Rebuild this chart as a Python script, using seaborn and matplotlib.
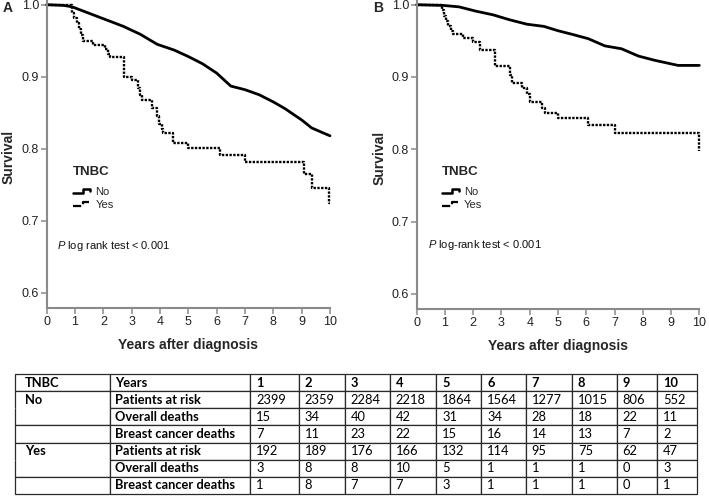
import numpy as np
import pandas as pd
import matplotlib
matplotlib.use("Agg")
import matplotlib.pyplot as plt
import seaborn as sns
from matplotlib.lines import Line2D
from matplotlib.legend_handler import HandlerBase

# ---------------- data ----------------
# Panel A (overall survival)
a_no_t = [0, 0.6, 0.9, 1.5, 2.1, 2.7, 3.3, 3.9, 4.5, 5.0, 5.5, 6.0, 6.5, 7.0, 7.5, 8.0, 8.4, 9.0, 9.35, 9.7, 10.0]
a_no_s = [1.0, 0.999, 0.997, 0.988, 0.979, 0.970, 0.959, 0.945, 0.937, 0.928, 0.918, 0.905, 0.887, 0.882, 0.875, 0.865, 0.856, 0.840, 0.829, 0.823, 0.818]
a_yes_t = [0, 0.88, 0.97, 1.07, 1.13, 1.20, 1.27, 1.65, 2.06, 2.15, 2.25, 2.72, 3.0, 3.23, 3.30, 3.35, 3.71, 3.88, 3.95, 4.06, 4.12, 4.47, 5.0, 6.12, 7.0, 9.08, 9.35, 9.97, 10.0]
a_yes_s = [1.0, 0.988, 0.982, 0.975, 0.966, 0.958, 0.949, 0.944, 0.938, 0.932, 0.928, 0.900, 0.896, 0.884, 0.874, 0.868, 0.856, 0.845, 0.835, 0.828, 0.822, 0.808, 0.801, 0.792, 0.781, 0.765, 0.746, 0.725, 0.725]

# Panel B (breast cancer specific survival)
b_no_t = [0, 0.94, 1.5, 2.1, 2.7, 3.3, 3.9, 4.5, 5.0, 5.5, 6.07, 6.66, 7.25, 7.84, 8.43, 9.25, 10.0]
b_no_s = [1.0, 0.999, 0.997, 0.991, 0.986, 0.979, 0.973, 0.970, 0.964, 0.959, 0.953, 0.943, 0.939, 0.929, 0.923, 0.916, 0.916]
b_yes_t = [0, 0.88, 0.97, 1.05, 1.12, 1.20, 1.30, 1.65, 2.0, 2.24, 2.76, 3.30, 3.36, 3.71, 3.90, 4.0, 4.42, 4.54, 5.0, 6.07, 7.01, 9.99, 10.0]
b_yes_s = [1.0, 0.993, 0.985, 0.978, 0.970, 0.964, 0.959, 0.954, 0.949, 0.938, 0.915, 0.903, 0.892, 0.885, 0.876, 0.866, 0.857, 0.850, 0.843, 0.834, 0.822, 0.798, 0.798]

x_ticks = [0, 1, 2, 3, 4, 5, 6, 7, 8, 9, 10]
y_ticks = [0.6, 0.7, 0.8, 0.9, 1.0]
legend_labels = ["No", "Yes"]
legend_title = "TNBC"
p_texts = ["$\\it{P}$ log rank test < 0.001", "$\\it{P}$ log-rank test < 0.001"]

# table
years = ["1", "2", "3", "4", "5", "6", "7", "8", "9", "10"]
row_groups = ["No", "", "", "Yes", "", ""]
row_labels = ["Patients at risk", "Overall deaths", "Breast cancer deaths",
              "Patients at risk", "Overall deaths", "Breast cancer deaths"]
no_risk = [2399, 2359, 2284, 2218, 1864, 1564, 1277, 1015, 806, 552]
no_overall = [15, 34, 40, 42, 31, 34, 28, 18, 22, 11]
no_bc = [7, 11, 23, 22, 15, 16, 14, 13, 7, 2]
yes_risk = [192, 189, 176, 166, 132, 114, 95, 75, 62, 47]
yes_overall = [3, 8, 8, 10, 5, 1, 1, 1, 0, 3]
yes_bc = [1, 8, 7, 7, 3, 1, 1, 1, 0, 1]

# ---------------- style ----------------
sns.set_theme(style="ticks")
plt.rcParams["font.family"] = ["Liberation Sans", "DejaVu Sans"]
plt.rcParams["mathtext.fontset"] = "custom"
plt.rcParams["mathtext.rm"] = "Liberation Sans"
plt.rcParams["mathtext.it"] = "Liberation Sans:italic"

W, H = 709, 503
fig = plt.figure(figsize=(W / 100, H / 100), dpi=100)
fig.patch.set_facecolor("white")

SPINE = "#8a8a8a"
DOT = (0, (1.0, 0.6))


class StepHandler(HandlerBase):
    def create_artists(self, legend, orig_handle, xdescent, ydescent,
                       width, height, fontsize, trans):
        x0 = -xdescent
        y0 = -ydescent
        xs = [x0, x0 + 0.6 * width, x0 + 0.6 * width, x0 + width, x0 + width]
        ys = [y0 + 0.2 * height, y0 + 0.2 * height, y0 + 0.75 * height,
              y0 + 0.75 * height, y0 + 0.45 * height]
        ln = Line2D(xs, ys, color=orig_handle.get_color(),
                    lw=orig_handle.get_linewidth(),
                    linestyle=orig_handle.get_linestyle())
        ln.set_transform(trans)
        return [ln]


def panel(rect, no_t, no_s, yes_t, yes_s, ptxt, ppos, titlepos, legpos, letter, letpos):
    ax = fig.add_axes(rect)
    sns.lineplot(x=no_t, y=no_s, ax=ax, color="black", lw=2.0,
                 estimator=None, sort=False, clip_on=False)
    sns.lineplot(x=yes_t, y=yes_s, ax=ax, color="black", lw=1.7,
                 drawstyle="steps-post", linestyle=DOT,
                 estimator=None, sort=False, clip_on=False)
    ax.set_xlim(0, 10)
    ax.set_ylim(0.579, 1.0065)
    ax.set_xticks(x_ticks)
    ax.set_xticklabels([str(v) for v in x_ticks])
    ax.set_yticks(y_ticks)
    ax.set_yticklabels([f"{v:.1f}" for v in y_ticks])
    for s in ["top", "right"]:
        ax.spines[s].set_visible(False)
    for s in ["left", "bottom"]:
        ax.spines[s].set_color(SPINE)
        ax.spines[s].set_linewidth(1.5)
    ax.tick_params(length=4, width=1.1, color=SPINE, labelsize=9,
                   labelcolor="#222222", pad=1.5)
    ax.set_ylabel("Survival", fontweight="bold", fontsize=10, va="center")
    ax.yaxis.set_label_coords(-0.133, 0.49)
    ax.set_xlabel("Years after diagnosis", fontweight="bold", fontsize=10, va="center")
    ax.xaxis.set_label_coords(0.5, -0.12)
    ax.set_facecolor("white")

    ax.text(titlepos[0], titlepos[1], legend_title, transform=ax.transAxes,
            fontsize=9.5, fontweight="bold", ha="left", va="center")
    handles = [Line2D([], [], color="black", lw=1.8),
               Line2D([], [], color="black", lw=1.6, linestyle=DOT)]
    ax.legend(handles, legend_labels,
              handler_map={Line2D: StepHandler()},
              loc="upper left", bbox_to_anchor=legpos, frameon=False,
              fontsize=8, handlelength=1.55, handletextpad=0.45,
              labelspacing=0.27, borderpad=0, borderaxespad=0)
    ax.text(ppos[0], ppos[1], ptxt, fontsize=8, va="center", ha="left",
            color="#111111")
    fig.text(letpos[0] / W, 1 - letpos[1] / H, letter, fontsize=10,
             fontweight="bold", ha="center", va="center")
    return ax


panel([46.7 / W, (H - 308) / H, 283.3 / W, 308 / H],
      a_no_t, a_no_s, a_yes_t, a_yes_s, p_texts[0], (0.36, 0.665),
      (0.093, 0.4416), (0.093, 0.394), "A", (8, 8))
panel([416.7 / W, (H - 309) / H, 282.6 / W, 309 / H],
      b_no_t, b_no_s, b_yes_t, b_yes_s, p_texts[1], (0.40, 0.668),
      (0.088, 0.443), (0.088, 0.396), "B", (378, 8))

# ---------------- table ----------------
value_rows = [no_risk, no_overall, no_bc, yes_risk, yes_overall, yes_bc]
cell_text = [[legend_title, "Years"] + years]
for g, lab, vals in zip(row_groups, row_labels, value_rows):
    cell_text.append([g, lab] + [str(v) for v in vals])

col_px = [95, 140.7, 48.3, 46, 45.3, 46.7, 45, 44.3, 46.3, 45, 40.4, 40]
tot = sum(col_px)
tax = fig.add_axes([0, 0, 1, 1])
tax.axis("off")
left, right, top, bottom = 15, 697, 374, 494
tbl = tax.table(cellText=cell_text, colWidths=[c / tot for c in col_px],
                cellLoc="left",
                bbox=[left / W, (H - bottom) / H, (right - left) / W, (bottom - top) / H])
tbl.auto_set_font_size(False)
tbl.set_fontsize(9.3)
for (r, c), cell in tbl.get_celld().items():
    cell.set_edgecolor("#2a2a2a")
    cell.set_linewidth(0.9)
    cell.set_facecolor("white")
    txt = cell.get_text()
    txt.set_fontfamily("Lato")
    txt.set_color("black")
    if r == 0 or c <= 1:
        txt.set_fontweight("bold")
    pad_px = 10 if c == 0 else (5 if c == 1 else 6)
    cell.PAD = pad_px / col_px[c]
    if c == 0 and r in (1, 4):
        cell.visible_edges = "LTR"
    elif c == 0 and r in (2, 5):
        cell.visible_edges = "LRB"

fig.savefig("out.png", dpi=100, facecolor="white")
